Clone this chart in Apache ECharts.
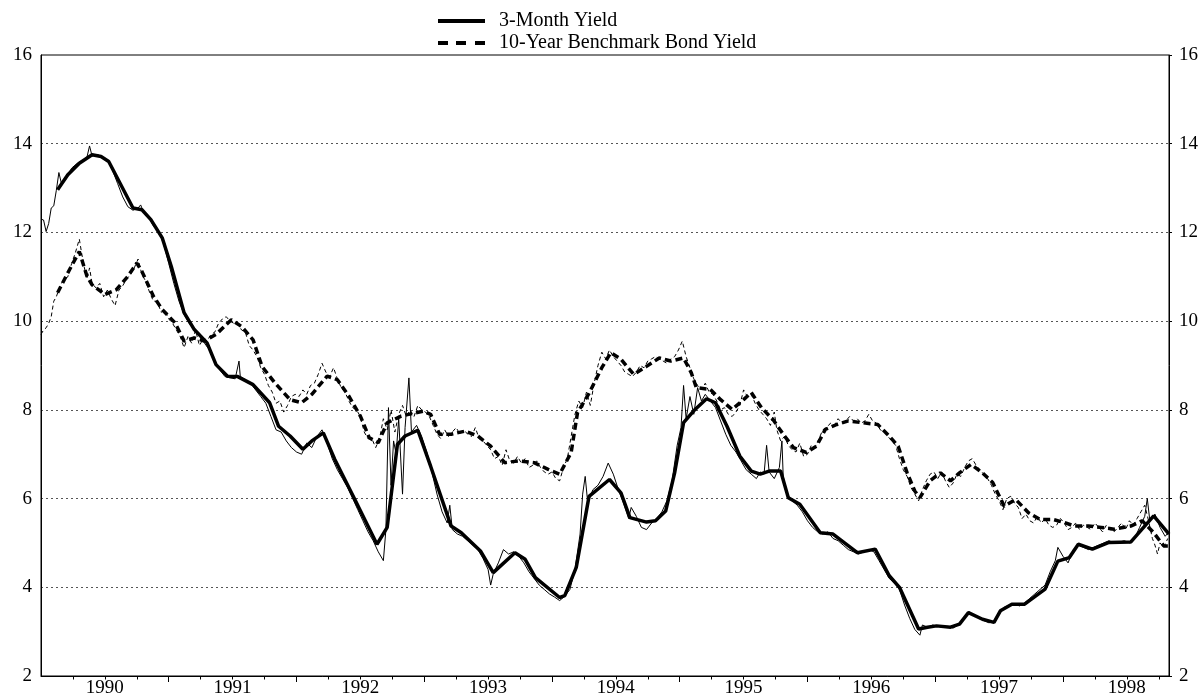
<!DOCTYPE html>
<html>
<head>
<meta charset="utf-8">
<script src="https://cdn.jsdelivr.net/npm/echarts@6/dist/echarts.min.js"></script>
<style>
html,body{margin:0;padding:0;background:#fff;}
#chart{width:1203px;height:698px;}
</style>
</head>
<body>
<div id="chart"></div>
<script>
// ---- data (decimal year, percent) ----
const yearLabels = [1990,1991,1992,1993,1994,1995,1996,1997,1998];
const yTicks = [2,4,6,8,10,12,14,16];

const smooth3m = [[1990.13,12.96],[1990.21,13.30],[1990.30,13.56],[1990.40,13.75],[1990.47,13.71],[1990.53,13.60],[1990.72,12.55],[1990.79,12.51],[1990.86,12.29],[1990.95,11.87],[1991.02,11.23],[1991.12,10.19],[1991.20,9.81],[1991.30,9.51],[1991.37,9.02],[1991.46,8.76],[1991.54,8.75],[1991.66,8.57],[1991.79,8.16],[1991.86,7.63],[1991.95,7.41],[1992.05,7.11],[1992.12,7.30],[1992.21,7.48],[1992.30,6.88],[1992.45,6.02],[1992.63,4.97],[1992.71,5.35],[1992.79,7.22],[1992.85,7.41],[1992.95,7.54],[1993.05,6.73],[1993.21,5.38],[1993.29,5.23],[1993.44,4.82],[1993.54,4.33],[1993.71,4.78],[1993.79,4.63],[1993.87,4.22],[1994.06,3.77],[1994.10,3.81],[1994.19,4.45],[1994.29,6.05],[1994.45,6.43],[1994.54,6.13],[1994.61,5.57],[1994.74,5.47],[1994.81,5.50],[1994.89,5.72],[1994.96,6.58],[1995.03,7.71],[1995.12,8.01],[1995.21,8.25],[1995.28,8.16],[1995.37,7.63],[1995.47,6.96],[1995.56,6.62],[1995.63,6.55],[1995.70,6.62],[1995.79,6.62],[1995.85,6.02],[1995.94,5.87],[1996.10,5.23],[1996.20,5.20],[1996.39,4.78],[1996.53,4.86],[1996.64,4.26],[1996.72,4.00],[1996.87,3.06],[1996.94,3.10],[1997.01,3.13],[1997.12,3.10],[1997.19,3.17],[1997.26,3.43],[1997.37,3.28],[1997.46,3.21],[1997.51,3.47],[1997.60,3.62],[1997.70,3.62],[1997.86,3.96],[1997.96,4.59],[1998.05,4.67],[1998.12,4.97],[1998.23,4.86],[1998.36,5.01],[1998.53,5.02],[1998.71,5.61],[1998.83,5.20]];

const raw3m = [[1990.00,12.30],[1990.02,12.28],[1990.04,12.02],[1990.06,12.20],[1990.08,12.55],[1990.10,12.60],[1990.12,12.95],[1990.14,13.35],[1990.16,13.10],[1990.20,13.25],[1990.24,13.45],[1990.28,13.55],[1990.32,13.62],[1990.36,13.70],[1990.38,13.95],[1990.40,13.72],[1990.44,13.76],[1990.48,13.70],[1990.52,13.62],[1990.56,13.40],[1990.60,13.10],[1990.64,12.80],[1990.68,12.58],[1990.72,12.50],[1990.76,12.55],[1990.78,12.62],[1990.80,12.48],[1990.84,12.35],[1990.88,12.15],[1990.92,12.02],[1990.96,11.75],[1991.00,11.30],[1991.04,10.85],[1991.08,10.45],[1991.12,10.15],[1991.16,9.95],[1991.20,9.80],[1991.24,9.70],[1991.28,9.50],[1991.32,9.35],[1991.36,9.05],[1991.40,8.90],[1991.44,8.75],[1991.48,8.72],[1991.52,8.70],[1991.55,9.10],[1991.56,8.75],[1991.60,8.68],[1991.64,8.60],[1991.68,8.45],[1991.72,8.30],[1991.76,8.15],[1991.80,7.85],[1991.84,7.55],[1991.88,7.50],[1991.92,7.30],[1991.96,7.15],[1992.00,7.05],[1992.04,7.00],[1992.08,7.25],[1992.12,7.15],[1992.16,7.40],[1992.20,7.55],[1992.24,7.25],[1992.28,6.90],[1992.32,6.65],[1992.36,6.45],[1992.40,6.25],[1992.44,6.00],[1992.48,5.75],[1992.52,5.50],[1992.56,5.25],[1992.60,5.05],[1992.64,4.80],[1992.68,4.60],[1992.70,5.30],[1992.72,8.05],[1992.74,6.30],[1992.76,7.30],[1992.78,7.00],[1992.80,7.80],[1992.83,6.10],[1992.85,7.60],[1992.88,8.72],[1992.90,7.50],[1992.94,7.65],[1992.98,7.40],[1993.02,7.05],[1993.06,6.60],[1993.10,6.10],[1993.14,5.70],[1993.18,5.45],[1993.20,5.85],[1993.22,5.30],[1993.26,5.20],[1993.30,5.15],[1993.34,5.05],[1993.38,4.95],[1993.42,4.85],[1993.46,4.65],[1993.50,4.40],[1993.52,4.05],[1993.54,4.30],[1993.58,4.55],[1993.62,4.85],[1993.66,4.75],[1993.70,4.80],[1993.74,4.70],[1993.78,4.55],[1993.82,4.35],[1993.86,4.20],[1993.90,4.05],[1993.94,3.95],[1993.98,3.85],[1994.02,3.78],[1994.06,3.70],[1994.10,3.80],[1994.14,3.95],[1994.18,4.40],[1994.22,5.20],[1994.24,6.10],[1994.26,6.50],[1994.28,5.90],[1994.32,6.20],[1994.36,6.30],[1994.40,6.50],[1994.44,6.80],[1994.48,6.55],[1994.52,6.20],[1994.56,5.90],[1994.60,5.55],[1994.62,5.80],[1994.66,5.60],[1994.70,5.35],[1994.74,5.30],[1994.78,5.45],[1994.82,5.55],[1994.86,5.70],[1994.90,5.95],[1994.94,6.40],[1994.98,7.20],[1995.01,7.60],[1995.03,8.55],[1995.05,7.80],[1995.08,8.30],[1995.11,7.90],[1995.14,8.50],[1995.17,8.20],[1995.20,8.35],[1995.24,8.20],[1995.28,8.05],[1995.32,7.75],[1995.36,7.45],[1995.40,7.20],[1995.44,7.05],[1995.48,6.85],[1995.52,6.65],[1995.56,6.55],[1995.60,6.45],[1995.63,6.60],[1995.66,6.55],[1995.68,7.20],[1995.70,6.60],[1995.74,6.45],[1995.78,6.70],[1995.80,7.30],[1995.81,6.50],[1995.84,6.10],[1995.88,5.95],[1995.92,5.85],[1995.96,5.70],[1996.00,5.50],[1996.04,5.35],[1996.08,5.25],[1996.12,5.20],[1996.16,5.25],[1996.20,5.10],[1996.24,5.05],[1996.28,4.95],[1996.32,4.85],[1996.36,4.80],[1996.40,4.75],[1996.44,4.80],[1996.48,4.85],[1996.52,4.80],[1996.56,4.60],[1996.60,4.40],[1996.64,4.20],[1996.68,4.10],[1996.72,3.95],[1996.76,3.60],[1996.80,3.30],[1996.84,3.05],[1996.88,2.92],[1996.90,3.15],[1996.94,3.10],[1996.98,3.15],[1997.02,3.12],[1997.06,3.10],[1997.10,3.12],[1997.14,3.08],[1997.18,3.15],[1997.22,3.25],[1997.26,3.45],[1997.30,3.38],[1997.34,3.30],[1997.38,3.25],[1997.42,3.20],[1997.46,3.22],[1997.50,3.40],[1997.54,3.55],[1997.58,3.60],[1997.62,3.62],[1997.66,3.58],[1997.70,3.65],[1997.74,3.75],[1997.78,3.85],[1997.82,3.95],[1997.86,4.05],[1997.90,4.35],[1997.94,4.60],[1997.96,4.90],[1998.00,4.70],[1998.04,4.55],[1998.08,4.85],[1998.12,4.95],[1998.16,4.90],[1998.20,4.85],[1998.24,4.90],[1998.28,4.95],[1998.32,5.00],[1998.36,5.05],[1998.40,5.00],[1998.44,5.02],[1998.48,5.05],[1998.52,5.00],[1998.56,5.10],[1998.60,5.35],[1998.64,5.60],[1998.66,6.00],[1998.68,5.50],[1998.72,5.65],[1998.76,5.35],[1998.80,5.15],[1998.83,5.25]];

const smooth10y = [[1990.13,10.64],[1990.21,11.09],[1990.30,11.57],[1990.36,11.01],[1990.40,10.82],[1990.50,10.60],[1990.59,10.71],[1990.68,11.01],[1990.75,11.31],[1990.79,11.12],[1990.88,10.56],[1990.95,10.26],[1991.05,9.96],[1991.12,9.55],[1991.20,9.62],[1991.28,9.55],[1991.37,9.70],[1991.49,10.03],[1991.57,9.88],[1991.66,9.58],[1991.73,8.98],[1991.83,8.61],[1991.95,8.23],[1992.04,8.16],[1992.12,8.35],[1992.24,8.76],[1992.32,8.68],[1992.41,8.31],[1992.50,7.86],[1992.57,7.37],[1992.64,7.26],[1992.71,7.71],[1992.82,7.86],[1992.99,7.97],[1993.05,7.90],[1993.12,7.45],[1993.21,7.45],[1993.32,7.52],[1993.42,7.41],[1993.52,7.18],[1993.63,6.81],[1993.74,6.85],[1993.86,6.81],[1993.97,6.66],[1994.06,6.55],[1994.15,7.04],[1994.20,7.94],[1994.29,8.37],[1994.39,8.95],[1994.46,9.29],[1994.54,9.14],[1994.64,8.80],[1994.74,8.98],[1994.84,9.17],[1994.93,9.10],[1995.03,9.17],[1995.09,8.84],[1995.13,8.50],[1995.24,8.46],[1995.32,8.23],[1995.41,8.01],[1995.50,8.23],[1995.56,8.39],[1995.64,8.05],[1995.73,7.78],[1995.82,7.41],[1995.89,7.15],[1995.99,7.04],[1996.07,7.18],[1996.14,7.56],[1996.23,7.67],[1996.32,7.75],[1996.43,7.71],[1996.55,7.67],[1996.64,7.41],[1996.71,7.18],[1996.78,6.58],[1996.84,6.17],[1996.88,6.02],[1996.96,6.40],[1997.04,6.58],[1997.12,6.40],[1997.19,6.58],[1997.28,6.77],[1997.37,6.58],[1997.45,6.36],[1997.54,5.83],[1997.63,5.98],[1997.73,5.68],[1997.82,5.53],[1997.92,5.53],[1998.01,5.46],[1998.09,5.38],[1998.20,5.38],[1998.30,5.35],[1998.40,5.31],[1998.53,5.38],[1998.62,5.50],[1998.71,5.23],[1998.79,4.93],[1998.83,4.93]];

const raw10y = [[1990.00,9.70],[1990.02,9.80],[1990.04,9.85],[1990.06,9.95],[1990.08,10.10],[1990.10,10.45],[1990.12,10.55],[1990.15,10.80],[1990.18,10.95],[1990.21,11.00],[1990.24,11.30],[1990.27,11.55],[1990.30,11.85],[1990.32,11.50],[1990.34,11.20],[1990.36,10.95],[1990.38,11.20],[1990.40,10.85],[1990.43,10.75],[1990.46,10.85],[1990.49,10.55],[1990.52,10.70],[1990.55,10.50],[1990.58,10.35],[1990.61,10.70],[1990.64,10.80],[1990.67,10.95],[1990.70,11.05],[1990.73,11.20],[1990.76,11.40],[1990.79,11.05],[1990.82,10.90],[1990.85,10.65],[1990.88,10.45],[1990.91,10.45],[1990.94,10.20],[1990.97,10.25],[1991.00,10.05],[1991.03,9.95],[1991.06,9.80],[1991.09,9.65],[1991.12,9.40],[1991.15,9.65],[1991.18,9.50],[1991.21,9.80],[1991.24,9.45],[1991.27,9.60],[1991.30,9.55],[1991.33,9.70],[1991.36,9.75],[1991.39,9.95],[1991.42,10.05],[1991.45,10.10],[1991.48,10.00],[1991.51,9.95],[1991.54,9.95],[1991.57,9.80],[1991.60,9.75],[1991.63,9.45],[1991.66,9.35],[1991.69,9.20],[1991.72,8.95],[1991.75,8.80],[1991.78,8.55],[1991.81,8.40],[1991.84,8.15],[1991.87,8.20],[1991.90,7.95],[1991.93,8.10],[1991.96,8.30],[1991.99,8.35],[1992.02,8.30],[1992.05,8.45],[1992.08,8.35],[1992.11,8.55],[1992.14,8.60],[1992.17,8.80],[1992.20,9.05],[1992.23,8.85],[1992.26,8.75],[1992.29,8.95],[1992.32,8.70],[1992.35,8.50],[1992.38,8.40],[1992.41,8.20],[1992.44,8.05],[1992.47,8.00],[1992.50,7.85],[1992.53,7.50],[1992.56,7.35],[1992.59,7.35],[1992.62,7.15],[1992.65,7.35],[1992.68,7.80],[1992.71,7.55],[1992.74,8.00],[1992.77,7.50],[1992.80,7.90],[1992.83,8.10],[1992.86,7.85],[1992.89,8.00],[1992.92,7.85],[1992.95,8.10],[1992.98,8.00],[1993.01,7.95],[1993.04,7.85],[1993.07,7.65],[1993.10,7.45],[1993.13,7.35],[1993.16,7.55],[1993.19,7.40],[1993.22,7.50],[1993.25,7.60],[1993.28,7.45],[1993.31,7.55],[1993.34,7.45],[1993.37,7.40],[1993.40,7.60],[1993.43,7.35],[1993.46,7.30],[1993.49,7.20],[1993.52,7.10],[1993.55,6.90],[1993.58,6.95],[1993.61,6.75],[1993.64,7.10],[1993.67,6.85],[1993.70,6.80],[1993.73,6.95],[1993.76,6.80],[1993.79,6.90],[1993.82,6.70],[1993.85,6.75],[1993.88,6.85],[1993.91,6.70],[1993.94,6.60],[1993.97,6.55],[1994.00,6.60],[1994.03,6.45],[1994.06,6.40],[1994.09,6.70],[1994.12,6.90],[1994.15,7.40],[1994.18,7.90],[1994.21,8.20],[1994.24,8.05],[1994.27,8.40],[1994.30,8.10],[1994.33,8.60],[1994.36,9.00],[1994.39,9.30],[1994.42,9.15],[1994.45,9.35],[1994.48,9.20],[1994.51,9.10],[1994.54,9.00],[1994.57,8.85],[1994.60,8.80],[1994.63,8.75],[1994.66,8.85],[1994.69,9.00],[1994.72,8.95],[1994.75,9.10],[1994.78,9.15],[1994.81,9.20],[1994.84,9.15],[1994.87,9.10],[1994.90,9.05],[1994.93,9.15],[1994.96,9.20],[1994.99,9.35],[1995.02,9.55],[1995.05,9.20],[1995.08,8.95],[1995.11,8.70],[1995.14,8.55],[1995.17,8.45],[1995.20,8.60],[1995.23,8.40],[1995.26,8.35],[1995.29,8.20],[1995.32,8.00],[1995.35,8.05],[1995.38,7.90],[1995.41,7.85],[1995.44,7.95],[1995.47,8.10],[1995.50,8.45],[1995.53,8.30],[1995.56,8.35],[1995.59,8.15],[1995.62,8.00],[1995.65,7.90],[1995.68,7.80],[1995.71,7.65],[1995.74,7.95],[1995.76,7.55],[1995.79,7.30],[1995.82,7.40],[1995.85,7.20],[1995.88,7.10],[1995.91,7.05],[1995.94,7.25],[1995.97,6.95],[1996.00,7.00],[1996.03,7.20],[1996.06,7.15],[1996.09,7.35],[1996.12,7.55],[1996.15,7.60],[1996.18,7.70],[1996.21,7.65],[1996.24,7.80],[1996.27,7.70],[1996.30,7.75],[1996.33,7.85],[1996.36,7.75],[1996.39,7.80],[1996.42,7.70],[1996.45,7.75],[1996.48,7.90],[1996.51,7.75],[1996.54,7.70],[1996.57,7.55],[1996.60,7.50],[1996.63,7.40],[1996.66,7.30],[1996.69,7.20],[1996.72,6.90],[1996.75,6.65],[1996.78,6.50],[1996.81,6.25],[1996.84,6.10],[1996.87,5.95],[1996.90,6.20],[1996.93,6.40],[1996.96,6.55],[1996.99,6.60],[1997.02,6.45],[1997.05,6.60],[1997.08,6.40],[1997.11,6.25],[1997.14,6.35],[1997.17,6.55],[1997.20,6.50],[1997.23,6.70],[1997.26,6.85],[1997.29,6.90],[1997.32,6.75],[1997.35,6.65],[1997.38,6.55],[1997.41,6.45],[1997.44,6.30],[1997.47,6.10],[1997.50,5.95],[1997.53,5.75],[1997.56,6.00],[1997.59,6.05],[1997.62,5.90],[1997.65,5.80],[1997.68,5.55],[1997.71,5.65],[1997.74,5.50],[1997.77,5.45],[1997.80,5.60],[1997.83,5.45],[1997.86,5.55],[1997.89,5.40],[1997.92,5.35],[1997.95,5.40],[1997.98,5.55],[1998.01,5.45],[1998.04,5.30],[1998.07,5.35],[1998.10,5.45],[1998.13,5.30],[1998.16,5.40],[1998.19,5.35],[1998.22,5.30],[1998.25,5.45],[1998.28,5.35],[1998.31,5.25],[1998.34,5.40],[1998.37,5.30],[1998.40,5.25],[1998.43,5.35],[1998.46,5.45],[1998.49,5.30],[1998.52,5.50],[1998.55,5.40],[1998.58,5.55],[1998.61,5.70],[1998.64,5.85],[1998.67,5.50],[1998.70,5.10],[1998.72,4.95],[1998.74,4.75],[1998.76,5.00],[1998.79,4.90],[1998.82,5.10]];

// ---- chart ----
const FONT = 'Liberation Serif';
const FS = 19;
const xMin = 1990, xMax = 1998.83;
const quarterTicks = [];
yearLabels.forEach(y => { [0.25,0.5,0.75].forEach(q => { if (y+q < xMax) quarterTicks.push(y+q); }); });
const yearTicks = yearLabels.filter(y => y > xMin);
const labelPos = yearLabels.map(y => y + 0.5);

const chart = echarts.init(document.getElementById('chart'), null, {renderer:'canvas'});
chart.setOption({
  animation: false,
  backgroundColor: '#fff',
  textStyle: {fontFamily: FONT, color: '#000'},
  grid: {left: 41, right: 34, top: 55, bottom: 21, show: true, borderColor: '#000', borderWidth: 1, backgroundColor: 'transparent'},
  legend: {
    orient: 'vertical', left: 433, top: 6, itemWidth: 47, itemHeight: 4, itemGap: 2,
    data: [
      {name: '3-Month Yield', icon: 'path://M0,0H47V4H0Z'},
      {name: '10-Year Benchmark Bond Yield', icon: 'path://M0,0H10V4H0Z M18,0H28V4H18Z M37,0H47V4H37Z'}
    ],
    itemStyle: {color: '#000', borderWidth: 0},
    textStyle: {fontFamily: FONT, fontSize: 20, lineHeight: 20, color: '#000', padding: [0,0,0,9]}
  },
  xAxis: [
    {type: 'value', min: xMin, max: xMax, position: 'bottom',
     axisLine: {show: true, lineStyle: {color: '#000', width: 1}},
     axisTick: {show: true, customValues: quarterTicks, length: 3.5, inside: false, lineStyle: {color: '#000'}},
     axisLabel: {show: true, customValues: labelPos, formatter: v => String(Math.floor(v + 1e-6)), fontFamily: FONT, fontSize: FS, color: '#000', margin: 3},
     splitLine: {show: false}},
    {type: 'value', min: xMin, max: xMax, position: 'bottom',
     axisLine: {show: false},
     axisTick: {show: true, customValues: yearTicks, length: 6, lineStyle: {color: '#000'}},
     axisLabel: {show: false},
     splitLine: {show: false}}
  ],
  yAxis: [
    {type: 'value', min: 2, max: 16, interval: 2, position: 'left',
     axisLine: {show: true, lineStyle: {color: '#000'}},
     axisTick: {show: false},
     axisLabel: {fontFamily: FONT, fontSize: FS, color: '#000', margin: 9},
     splitLine: {show: true, showMinLine: false, showMaxLine: false, lineStyle: {color: '#555', width: 1, type: [2, 3]}}},
    {type: 'value', min: 2, max: 16, interval: 2, position: 'right',
     axisLine: {show: true, lineStyle: {color: '#000'}},
     axisTick: {show: true, length: 3, lineStyle: {color: '#000'}},
     axisLabel: {fontFamily: FONT, fontSize: FS, color: '#000', margin: 10},
     splitLine: {show: false}}
  ],
  series: [
    {name: 'raw3m', type: 'line', data: raw3m, symbol: 'none', lineStyle: {color: '#000', width: 1}, z: 2},
    {name: 'raw10y', type: 'line', data: raw10y, symbol: 'none', lineStyle: {color: '#000', width: 1, type: [4, 3]}, z: 2},
    {name: '3-Month Yield', type: 'line', data: smooth3m, symbol: 'none',
     lineStyle: {color: '#000', width: 3.5}, itemStyle: {color: '#000'}, z: 3},
    {name: '10-Year Benchmark Bond Yield', type: 'line', data: smooth10y, symbol: 'none',
     lineStyle: {color: '#000', width: 3.5, type: [7, 4]}, itemStyle: {color: '#000'}, z: 3}
  ]
});
</script>
</body>
</html>
